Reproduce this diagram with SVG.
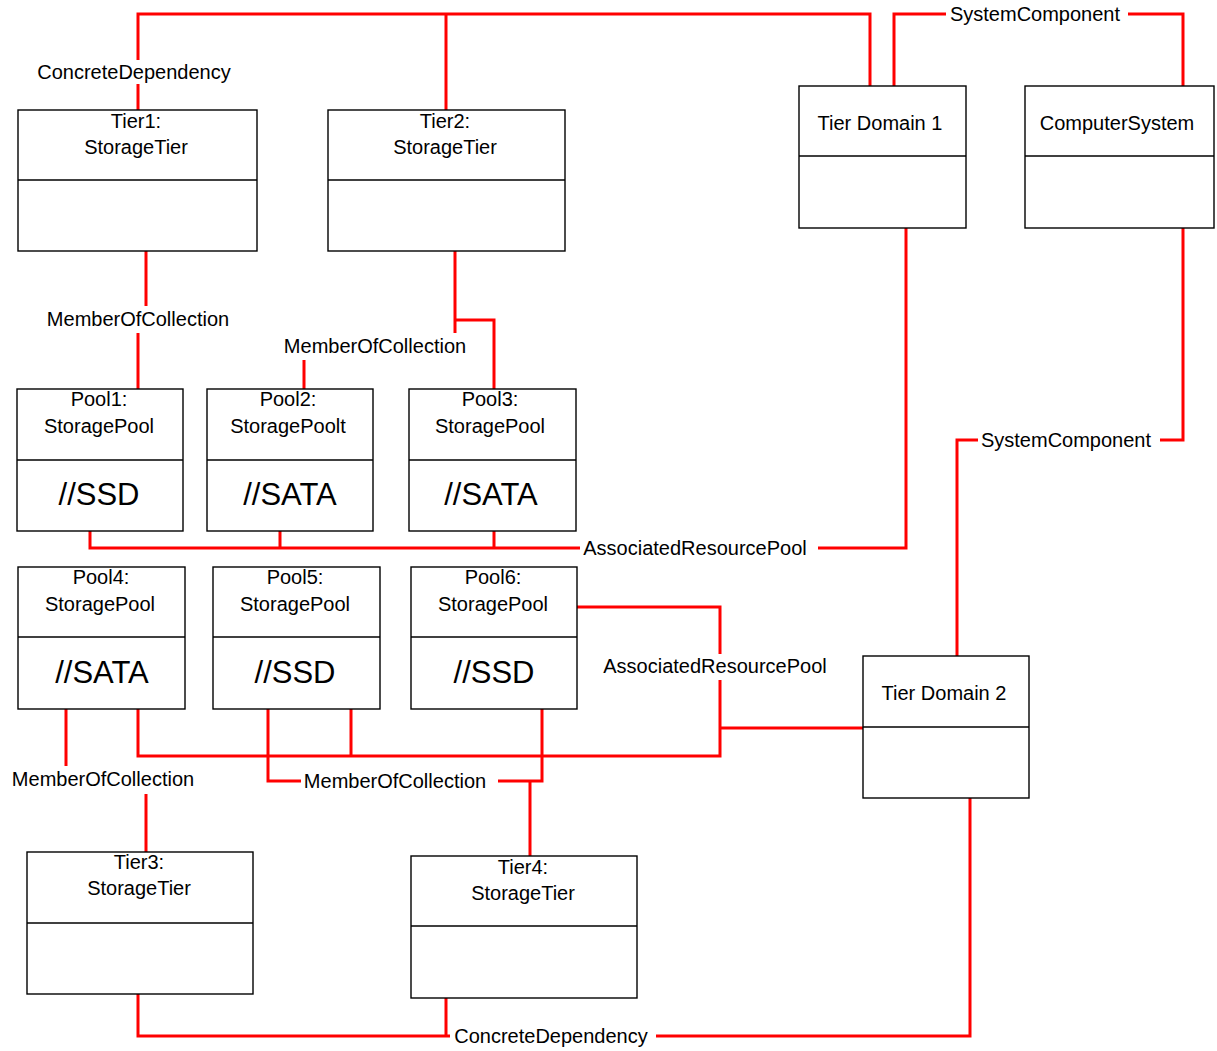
<svg xmlns="http://www.w3.org/2000/svg" width="1217" height="1051" viewBox="0 0 1217 1051">
<style>
.box{fill:#fff;stroke:#000;stroke-width:1.4}
.div{stroke:#000;stroke-width:1.6}
.t{font-family:"Liberation Sans",Arial,sans-serif;font-size:20px;fill:#000;text-anchor:middle;dominant-baseline:central}
.big{font-family:"Liberation Sans",Arial,sans-serif;font-size:31px;fill:#000;text-anchor:middle;dominant-baseline:central}
.c{fill:none;stroke:#ff0000;stroke-width:3}
.lbl{font-family:"Liberation Sans",Arial,sans-serif;font-size:20px;fill:#000;text-anchor:middle;dominant-baseline:central}
</style>
<rect width="1217" height="1051" fill="#fff"/>
<g id="connectors">
<path class="c" d="M138 110V84M138 60V14H870V86M446 14V110"/>
<path class="c" d="M894 86V14H946M1128 14H1183V86"/>
<path class="c" d="M146 251V306M138 333V389"/>
<path class="c" d="M455 251V333M455 320H494V389M304 360V389"/>
<path class="c" d="M90 531V548H580M818 548H906V228M280 531V548M494 531V548"/>
<path class="c" d="M1183 228V440H1160M978 440H957V656"/>
<path class="c" d="M577 607H720V654M720 680V756H138V709M351 709V756M720 728H863"/>
<path class="c" d="M66 709V766M146 794V852"/>
<path class="c" d="M268 709V781H301M498 781H542V709M530 781V856"/>
<path class="c" d="M138 994V1036H450M446 998V1036M656 1036H970V798"/>
<text class="lbl" x="134" y="72">ConcreteDependency</text>
<text class="lbl" x="1035" y="14">SystemComponent</text>
<text class="lbl" x="138" y="319">MemberOfCollection</text>
<text class="lbl" x="375" y="346">MemberOfCollection</text>
<text class="lbl" x="695" y="548">AssociatedResourcePool</text>
<text class="lbl" x="1066" y="440">SystemComponent</text>
<text class="lbl" x="715" y="666">AssociatedResourcePool</text>
<text class="lbl" x="103" y="779">MemberOfCollection</text>
<text class="lbl" x="395" y="781">MemberOfCollection</text>
<text class="lbl" x="551" y="1036">ConcreteDependency</text>
</g>
<g id="tier1"><rect class="box" x="18" y="110" width="239" height="141"/><line class="div" x1="18" y1="180" x2="257" y2="180"/><text class="t" x="136" y="121">Tier1:</text><text class="t" x="136" y="147">StorageTier</text></g>
<g id="tier2"><rect class="box" x="328" y="110" width="237" height="141"/><line class="div" x1="328" y1="180" x2="565" y2="180"/><text class="t" x="445" y="121">Tier2:</text><text class="t" x="445" y="147">StorageTier</text></g>
<g id="tierdomain1"><rect class="box" x="799" y="86" width="167" height="142"/><line class="div" x1="799" y1="156" x2="966" y2="156"/><text class="t" x="880" y="123">Tier Domain 1</text></g>
<g id="computersystem"><rect class="box" x="1025" y="86" width="189" height="142"/><line class="div" x1="1025" y1="156" x2="1214" y2="156"/><text class="t" x="1117" y="123">ComputerSystem</text></g>
<g id="pool1"><rect class="box" x="17" y="389" width="166" height="142"/><line class="div" x1="17" y1="460" x2="183" y2="460"/><text class="t" x="99" y="399">Pool1:</text><text class="t" x="99" y="426">StoragePool</text><text class="big" x="99" y="494">//SSD</text></g>
<g id="pool2"><rect class="box" x="207" y="389" width="166" height="142"/><line class="div" x1="207" y1="460" x2="373" y2="460"/><text class="t" x="288" y="399">Pool2:</text><text class="t" x="288" y="426">StoragePoolt</text><text class="big" x="290" y="494">//SATA</text></g>
<g id="pool3"><rect class="box" x="409" y="389" width="167" height="142"/><line class="div" x1="409" y1="460" x2="576" y2="460"/><text class="t" x="490" y="399">Pool3:</text><text class="t" x="490" y="426">StoragePool</text><text class="big" x="491" y="494">//SATA</text></g>
<g id="pool4"><rect class="box" x="18" y="567" width="167" height="142"/><line class="div" x1="18" y1="637" x2="185" y2="637"/><text class="t" x="101" y="577">Pool4:</text><text class="t" x="100" y="604">StoragePool</text><text class="big" x="102" y="672">//SATA</text></g>
<g id="pool5"><rect class="box" x="213" y="567" width="167" height="142"/><line class="div" x1="213" y1="637" x2="380" y2="637"/><text class="t" x="295" y="577">Pool5:</text><text class="t" x="295" y="604">StoragePool</text><text class="big" x="295" y="672">//SSD</text></g>
<g id="pool6"><rect class="box" x="411" y="567" width="166" height="142"/><line class="div" x1="411" y1="637" x2="577" y2="637"/><text class="t" x="493" y="577">Pool6:</text><text class="t" x="493" y="604">StoragePool</text><text class="big" x="494" y="672">//SSD</text></g>
<g id="tierdomain2"><rect class="box" x="863" y="656" width="166" height="142"/><line class="div" x1="863" y1="727" x2="1029" y2="727"/><text class="t" x="944" y="693">Tier Domain 2</text></g>
<g id="tier3"><rect class="box" x="27" y="852" width="226" height="142"/><line class="div" x1="27" y1="923" x2="253" y2="923"/><text class="t" x="139" y="862">Tier3:</text><text class="t" x="139" y="888">StorageTier</text></g>
<g id="tier4"><rect class="box" x="411" y="856" width="226" height="142"/><line class="div" x1="411" y1="926" x2="637" y2="926"/><text class="t" x="523" y="867">Tier4:</text><text class="t" x="523" y="893">StorageTier</text></g>
</svg>
